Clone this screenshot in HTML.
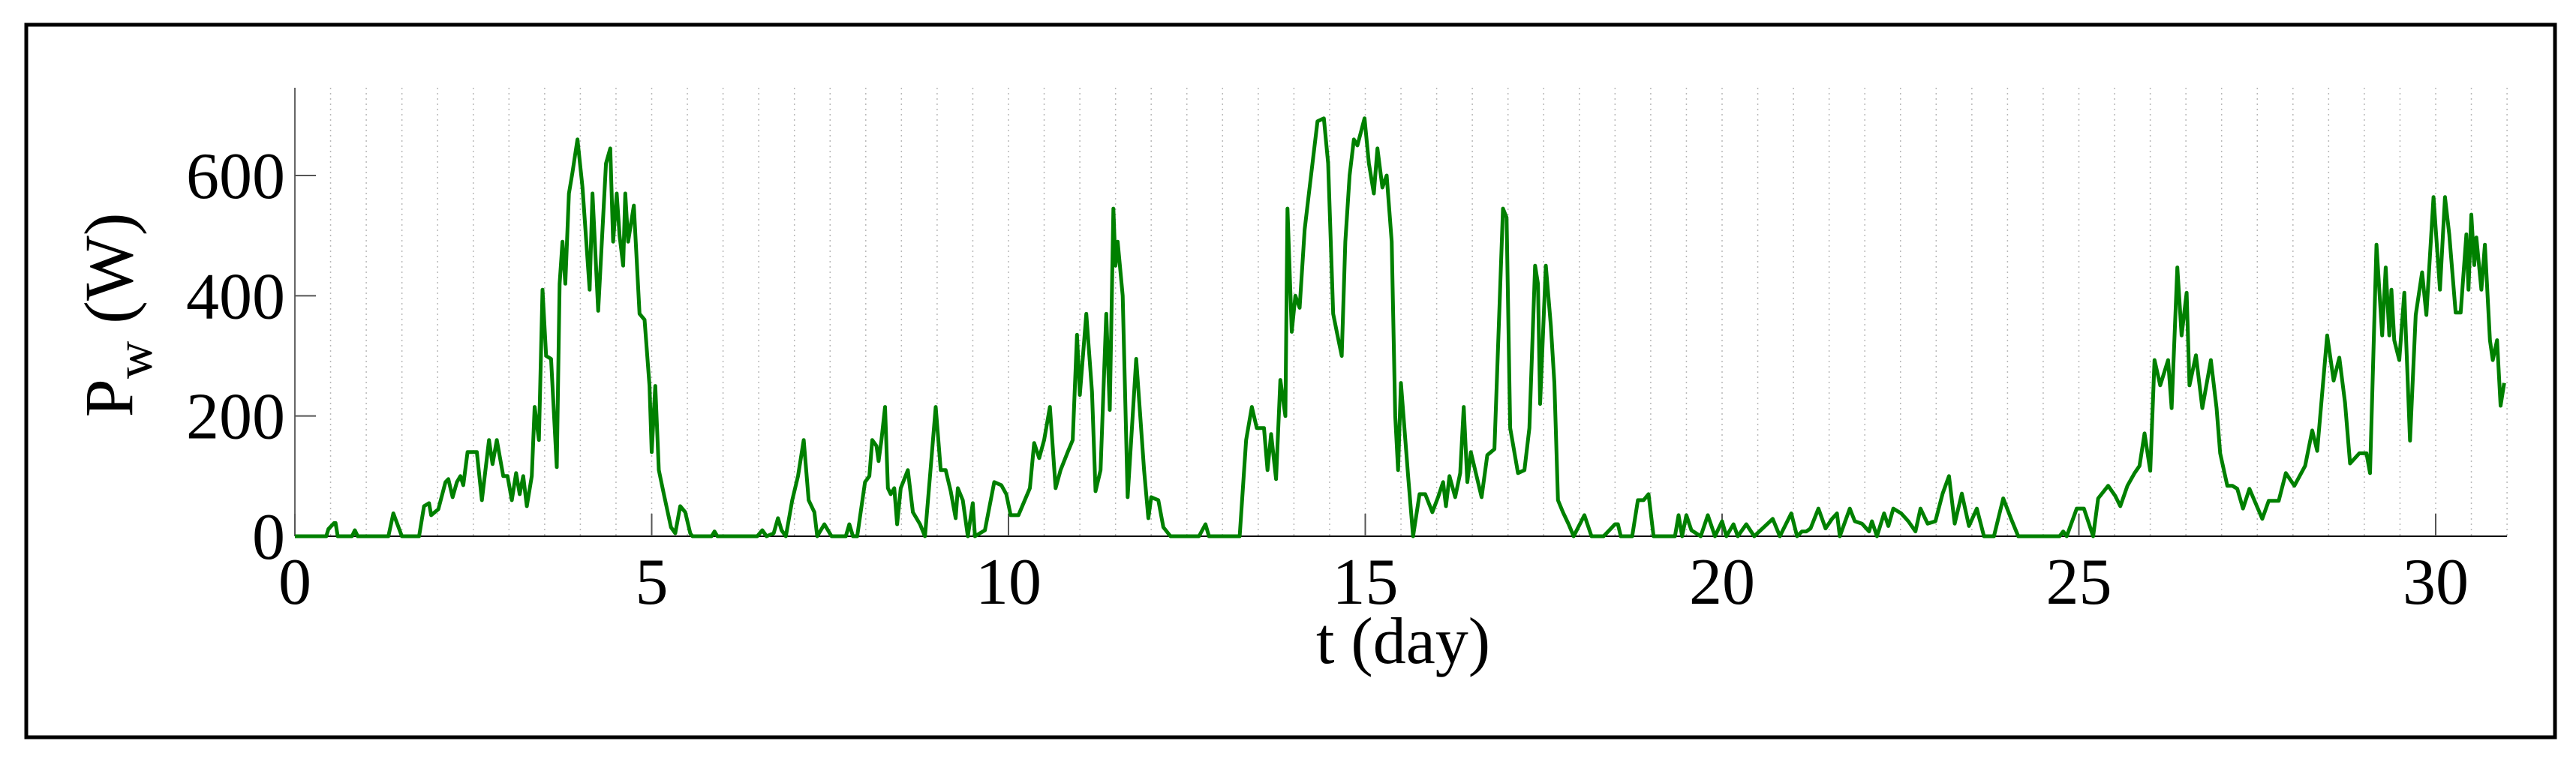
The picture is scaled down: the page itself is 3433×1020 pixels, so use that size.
<!DOCTYPE html>
<html><head><meta charset="utf-8">
<style>
html,body{margin:0;padding:0;background:#fff;}
body{width:3433px;height:1015px;overflow:hidden;}
text{font-family:"Liberation Serif",serif;fill:#000;}
</style></head>
<body>
<svg id="chart" width="3433" height="1015" viewBox="0 0 3433 1015" xmlns="http://www.w3.org/2000/svg">
<rect x="35" y="33" width="3370" height="950" fill="#fff" stroke="#000" stroke-width="5"/>
<g id="grid"></g>
<g id="axes"></g>
<g id="series"></g>
<g id="labels"></g>
</svg>
<script>
const xTicks=[0,5,10,15,20,25,30];
const yTicks=[0,200,400,600];
const days=[0,0.44,0.47,0.55,0.57,0.6,0.8,0.84,0.88,1.31,1.38,1.5,1.74,1.81,1.88,1.91,2.01,2.11,2.15,2.21,2.27,2.32,2.36,2.42,2.55,2.62,2.72,2.77,2.83,2.92,2.98,3.04,3.1,3.15,3.2,3.25,3.32,3.36,3.42,3.47,3.52,3.59,3.67,3.71,3.75,3.79,3.84,3.89,3.96,4.03,4.13,4.17,4.25,4.36,4.42,4.46,4.51,4.55,4.6,4.63,4.67,4.75,4.83,4.9,4.97,5.0,5.05,5.1,5.17,5.27,5.33,5.4,5.47,5.54,5.57,5.84,5.88,5.92,6.48,6.55,6.61,6.71,6.77,6.82,6.88,6.97,7.05,7.13,7.2,7.28,7.32,7.42,7.52,7.72,7.77,7.82,7.88,7.99,8.05,8.09,8.15,8.18,8.22,8.27,8.31,8.35,8.4,8.44,8.49,8.59,8.66,8.76,8.83,8.9,8.98,9.05,9.12,9.19,9.26,9.29,9.36,9.43,9.5,9.53,9.67,9.8,9.9,9.97,10.03,10.14,10.3,10.36,10.43,10.5,10.58,10.66,10.73,10.83,10.9,10.96,11.0,11.09,11.17,11.22,11.29,11.37,11.42,11.47,11.5,11.53,11.6,11.67,11.79,11.9,11.96,12.0,12.1,12.17,12.27,12.67,12.76,12.81,13.24,13.33,13.41,13.48,13.58,13.63,13.68,13.75,13.81,13.88,13.91,13.97,14.02,14.08,14.15,14.22,14.33,14.42,14.48,14.55,14.6,14.67,14.72,14.78,14.84,14.89,14.99,15.05,15.12,15.17,15.24,15.3,15.37,15.42,15.46,15.5,15.6,15.67,15.76,15.84,15.94,16.02,16.09,16.13,16.18,16.26,16.33,16.38,16.43,16.48,16.63,16.71,16.81,16.93,16.98,17.03,17.14,17.23,17.3,17.38,17.42,17.45,17.53,17.6,17.65,17.7,17.77,17.85,17.92,18.07,18.17,18.34,18.5,18.54,18.58,18.74,18.82,18.9,18.97,19.04,19.34,19.39,19.44,19.5,19.57,19.7,19.8,19.9,20.0,20.06,20.16,20.22,20.34,20.45,20.71,20.81,20.97,21.05,21.12,21.18,21.24,21.35,21.45,21.54,21.61,21.65,21.79,21.86,21.96,22.06,22.1,22.17,22.27,22.33,22.4,22.51,22.61,22.71,22.78,22.88,22.99,23.09,23.18,23.26,23.36,23.46,23.57,23.67,23.81,23.94,24.05,24.15,24.73,24.78,24.83,24.97,25.07,25.2,25.27,25.41,25.51,25.58,25.68,25.78,25.85,25.92,26.0,26.06,26.14,26.25,26.3,26.38,26.44,26.51,26.55,26.64,26.73,26.85,26.93,26.98,27.08,27.15,27.22,27.3,27.39,27.48,27.57,27.66,27.8,27.9,28.02,28.17,28.27,28.34,28.48,28.57,28.65,28.73,28.8,28.93,29.03,29.08,29.17,29.25,29.3,29.35,29.38,29.42,29.49,29.56,29.64,29.72,29.81,29.87,29.97,30.06,30.13,30.19,30.28,30.35,30.43,30.46,30.5,30.54,30.57,30.64,30.69,30.76,30.8,30.86,30.91,30.96];
const power=[0,0,12,22,22,0,0,10,0,0,38,0,0,50,55,35,45,90,95,65,90,100,85,140,140,60,160,120,160,100,100,60,105,70,100,50,100,215,160,410,300,295,115,420,490,420,570,605,660,580,410,570,375,620,645,490,570,500,450,570,490,550,370,360,250,140,250,110,70,15,5,50,40,5,0,0,8,0,0,10,0,5,30,10,0,60,100,160,60,40,0,20,0,0,20,0,0,90,100,160,150,125,160,215,80,70,80,20,80,110,40,20,0,100,215,110,110,75,30,80,60,0,55,0,10,90,85,70,35,35,80,155,130,160,215,80,110,140,160,335,235,370,240,75,110,370,210,545,450,490,400,65,295,110,30,65,60,15,0,0,20,0,0,160,215,180,180,110,170,95,260,200,545,340,400,380,510,580,690,695,620,370,340,300,490,600,660,650,695,620,570,645,580,600,490,200,110,255,100,0,70,70,40,65,90,50,100,65,105,215,90,140,65,135,145,545,530,180,105,110,180,450,420,220,450,350,255,60,40,20,0,35,0,0,20,20,0,0,60,60,70,0,0,35,0,35,10,0,35,0,25,0,20,0,20,0,29,0,38,0,8,8,13,46,13,29,38,0,46,25,21,8,25,0,38,17,46,38,25,8,46,21,25,71,100,21,71,17,46,0,0,63,29,0,0,8,0,46,46,0,63,84,67,50,84,105,117,171,109,293,251,293,213,447,334,405,251,301,213,293,213,138,84,84,79,46,79,54,29,59,59,105,84,117,176,142,334,259,297,222,121,138,138,105,485,334,447,334,410,326,293,405,159,368,439,368,564,410,564,502,372,372,502,410,535,451,497,410,485,326,293,326,217,255];

const X0=393, PXD=95.1, Y0=715, PXW=0.8017, XMAX=31, YTOP=117;
const NS="http://www.w3.org/2000/svg";
function xs(d){return X0+d*PXD;}
function ys(v){return Y0-v*PXW;}
function mk(tag,attrs,parent){const e=document.createElementNS(NS,tag);for(const k in attrs)e.setAttribute(k,attrs[k]);parent.appendChild(e);return e;}
const grid=document.getElementById('grid'),axes=document.getElementById('axes'),series=document.getElementById('series'),labels=document.getElementById('labels');

for(let g=0.5;g<=XMAX+0.001;g+=0.5){
  const l=mk('line',{x1:xs(g),x2:xs(g),y1:YTOP,y2:Y0,stroke:'#b8b8b8','stroke-width':1.5,'stroke-dasharray':'2,5'},grid);
  
  
}
const ya=mk('line',{x1:X0,x2:X0,y1:YTOP,y2:Y0,stroke:'#666','stroke-width':2},axes);


const xa=mk('line',{x1:X0,x2:xs(XMAX),y1:Y0,y2:Y0,stroke:'#000','stroke-width':2},axes);



yTicks.forEach(v=>{
  const t=mk('line',{x1:X0,x2:X0+28,y1:ys(v),y2:ys(v),stroke:'#555','stroke-width':2},axes);
  
  
  const tx=mk('text',{x:380,y:ys(v)+30,'font-size':88,'text-anchor':'end'},labels);
  tx.textContent=v;
  
  
});
xTicks.forEach(v=>{
  const t=mk('line',{x1:xs(v),x2:xs(v),y1:Y0,y2:Y0-30,stroke:'#555','stroke-width':2},axes);
  
  
  const tx=mk('text',{x:xs(v),y:805,'font-size':88,'text-anchor':'middle'},labels);
  tx.textContent=v;
  
  
});

let d='';
for(let i=0;i<days.length;i++){d+=(i?'L':'M')+xs(days[i]).toFixed(1)+','+ys(power[i]).toFixed(1);}
const path=mk('path',{d:d,fill:'none',stroke:'#008000','stroke-width':5,'stroke-linejoin':'round'},series);



const xl=mk('text',{x:1870,y:884,'font-size':88,'text-anchor':'middle'},labels);
xl.textContent='t (day)';



const yl=mk('text',{x:0,y:0,'font-size':92,'text-anchor':'middle',transform:'translate(176,420) rotate(-90)'},labels);


const t1=mk('tspan',{},yl);t1.textContent='P';
const t2=mk('tspan',{dy:26,'font-size':70},yl);t2.textContent='w';
const t3=mk('tspan',{dy:-26},yl);t3.textContent=' (W)';
</script>
</body></html>
